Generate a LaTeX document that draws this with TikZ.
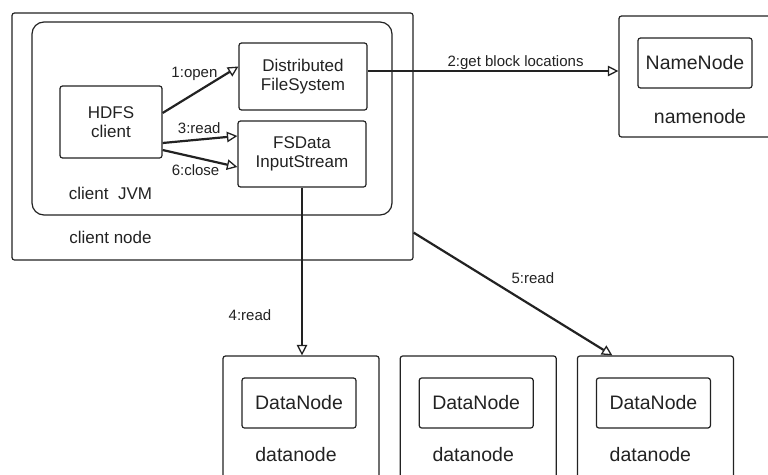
\documentclass[tikz,border=0pt]{standalone}
\usepackage{xcolor}
\usepackage{fontspec}
\setmainfont{Liberation Sans}
\usepackage{tikz}
\usetikzlibrary{arrows.meta, positioning}
\definecolor{ink}{HTML}{222222}

\begin{document}
\begin{tikzpicture}[
    x=1pt, y=-1pt,
    node distance=15pt,
    host/.style={rectangle, draw=ink, line width=1.2pt, rounded corners=2.5pt},
    box/.style={rectangle, draw=ink, line width=1.2pt, rounded corners=2.5pt, align=center, text=ink, font=\fontsize{17}{18.5}\selectfont},
    daemon/.style={box, minimum width=114pt, minimum height=50pt, font=\fontsize{19.5}{21}\selectfont},
    caption/.style={text=ink, font=\fontsize{17}{18.5}\selectfont},
    hostname/.style={text=ink, font=\fontsize{19.5}{21}\selectfont},
    msg/.style={text=ink, font=\fontsize{15}{17}\selectfont},
    arrow/.style={draw=ink, line width=2.2pt, -{Triangle[open, length=10.5pt, width=10.5pt, line width=1.3pt]}},
]
\clip (0,0) rectangle (768,474);

% client side
\node[host, minimum width=401pt, minimum height=247pt] (clientnode) at (212.5,136.5) {};
\node[host, rounded corners=12pt, minimum width=360pt, minimum height=193pt] (jvm) at (212,118.5) {};
\node[box, minimum width=102pt, minimum height=72pt] (hdfs) at (111,122) {HDFS\\client};
\node[box, minimum width=128pt, minimum height=67pt] (dfs) at (303,76.5) {Distributed\\FileSystem};
\node[box, minimum width=128pt, minimum height=66pt] (fsdis) at (302,154) {FSData\\InputStream};
\node[caption] (jvmname) at (110.5,193) {client\ \ JVM};
\node[caption] (clientname) at (110.5,237) {client node};

% namenode
\node[host, minimum width=154pt, minimum height=121pt] (nnhost) at (696,76.5) {};
\node[daemon, below=22pt of nnhost.north, xshift=-1pt] (nn) {NameNode};
\node[hostname, below=17pt of nn, xshift=5pt] (nnname) {namenode};

% datanodes
\node[host, minimum width=156pt, minimum height=164pt] (dn1host) at (301,438) {};
\node[host, minimum width=156pt, minimum height=164pt, right=20pt of dn1host] (dn2host) {};
\node[host, minimum width=156pt, minimum height=164pt, right=20pt of dn2host] (dn3host) {};
\node[daemon, below=22pt of dn1host.north, xshift=-2pt] (dn1) {DataNode};
\node[daemon, below=22pt of dn2host.north, xshift=-2pt] (dn2) {DataNode};
\node[daemon, below=22pt of dn3host.north, xshift=-2pt] (dn3) {DataNode};
\node[hostname, below=of dn1, xshift=-3pt] (dn1name) {datanode};
\node[hostname, below=of dn2, xshift=-3pt] (dn2name) {datanode};
\node[hostname, below=of dn3, xshift=-3pt] (dn3name) {datanode};

\coordinate (getloc) at ([yshift=5.5pt]dfs.east);

\draw[arrow] ([yshift=9pt]hdfs.east) -- node[msg, pos=0.42, yshift=20pt] {1:open} ([yshift=10pt]dfs.west);
\draw[arrow] (getloc) -- node[msg, pos=0.59, yshift=8pt] {2:get block locations} (getloc -| nnhost.west);
\draw[arrow] ([yshift=-21pt]hdfs.east) -- node[msg, pos=0.49, yshift=11pt] {3:read} ([yshift=18pt]fsdis.west);
\draw[arrow] (fsdis.south) -- node[msg, pos=0.76, xshift=-52pt] {4:read} (fsdis.south |- dn1host.north);
\draw[arrow] ([yshift=28pt]clientnode.south east) -- node[msg, pos=0.6, yshift=28pt] {5:read} ([xshift=-43pt]dn3host.north);
\draw[arrow] ([yshift=-28pt]hdfs.east) -- node[msg, pos=0.44, yshift=-12.5pt] {6:close} ([yshift=-13pt]fsdis.west);

\end{tikzpicture}
\end{document}
